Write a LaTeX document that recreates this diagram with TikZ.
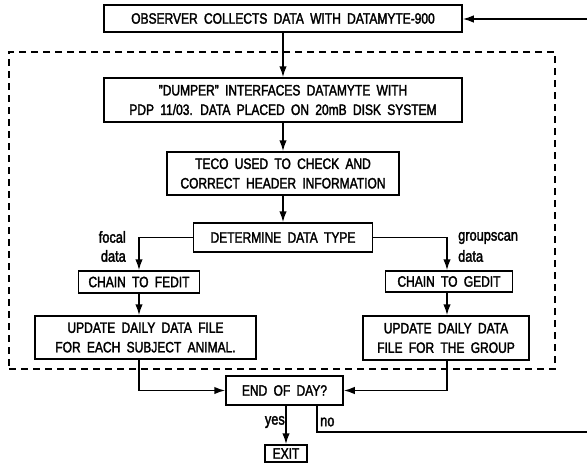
\documentclass[tikz,border=0pt]{standalone}
\usepackage{fontspec}
\setmainfont{Liberation Sans}[FakeStretch=0.8,FakeBold=2]
\usetikzlibrary{arrows.meta}
\newcommand\boxfont{\fontsize{15}{19.5}\selectfont\spaceskip=0.42em plus 0.1em}
\newcommand\lblfont{\fontsize{16}{18}\selectfont}
\begin{document}
\begin{tikzpicture}[x=1pt,y=-1pt,
  box/.style={draw, line width=1.5pt, inner sep=0pt, align=center, font=\boxfont},
  lbl/.style={inner sep=0pt, font=\lblfont},
  conn/.style={line width=1.6pt},
  arr/.style={line width=1.6pt, -{Latex[length=11pt,width=7.5pt]}},
  dashbox/.style={draw, line width=1.6pt, dash pattern=on 7pt off 5pt, inner sep=0pt}]
\useasboundingbox (0,0) rectangle (587,463);
% group boundary
\node[dashbox, minimum width=546pt, minimum height=317pt] (group) at (282,210.5) {};
% boxes
\node[box, minimum width=358pt, minimum height=27pt] (top) at (283,18.5) {OBSERVER COLLECTS DATA WITH DATAMYTE-900};
\node[box, minimum width=358pt, minimum height=44pt] (dumper) at (283,100) {"DUMPER" INTERFACES DATAMYTE WITH\\PDP 11/03. DATA PLACED ON 20mB DISK SYSTEM};
\node[box, minimum width=232pt, minimum height=43pt] (teco) at (283,173.5) {TECO USED TO CHECK AND\\CORRECT HEADER INFORMATION};
\node[box, minimum width=179pt, minimum height=29pt] (det) at (283,237.5) {DETERMINE DATA TYPE};
\node[box, minimum width=121pt, minimum height=22pt] (fedit) at (139,282) {CHAIN TO FEDIT};
\node[box, minimum width=127pt, minimum height=21pt] (gedit) at (449,281.5) {CHAIN TO GEDIT};
\node[box, minimum width=221pt, minimum height=43pt] (updl) at (145.5,337.5) {UPDATE DAILY DATA FILE\\FOR EACH SUBJECT ANIMAL.};
\node[box, minimum width=166pt, minimum height=44pt] (updr) at (446,338) {UPDATE DAILY DATA\\FILE FOR THE GROUP};
\node[box, minimum width=117pt, minimum height=29pt] (eod) at (284.5,390.5) {END OF DAY?};
\node[box, minimum width=42pt, minimum height=17pt] (exit) at (286,453.5) {EXIT};
% labels
\node[lbl, anchor=east] (focal) at (126,237) {focal};
\node[lbl, anchor=east] (fdata) at (126,256) {data};
\node[lbl, anchor=west] (gscan) at (458,238) {groupscan};
\node[lbl, anchor=west] (gdata) at (458,256) {data};
\node[lbl, anchor=east] (yes) at (285,422) {yes};
\node[lbl, anchor=west] (no) at (320,422) {no};
% connectors
\coordinate (loopin) at (587,19);
\coordinate (noend) at (587,432);
\draw[arr] (loopin) -- (loopin -| top.east);
\draw[arr] (top.south) -- (dumper.north);
\draw[arr] (dumper.south) -- (teco.north);
\draw[arr] (teco.south) -- (det.north);
\draw[arr] (det.west) -| (fedit.north);
\draw[arr] (det.east) -| ([xshift=-2pt]gedit.north);
\draw[arr] (fedit.south) -- (fedit.south |- updl.north);
\draw[arr] ([xshift=-2pt]gedit.south) -- ([xshift=-2pt]gedit.south |- updr.north);
\draw[arr] (fedit.south |- updl.south) |- (eod.west);
\draw[arr] ([xshift=-2pt]gedit.south |- updr.south) |- (eod.east);
\draw[arr] (exit.north |- eod.south) -- (exit.north);
\draw[conn] ([xshift=32.5pt]eod.south) |- (noend);
\end{tikzpicture}
\end{document}
